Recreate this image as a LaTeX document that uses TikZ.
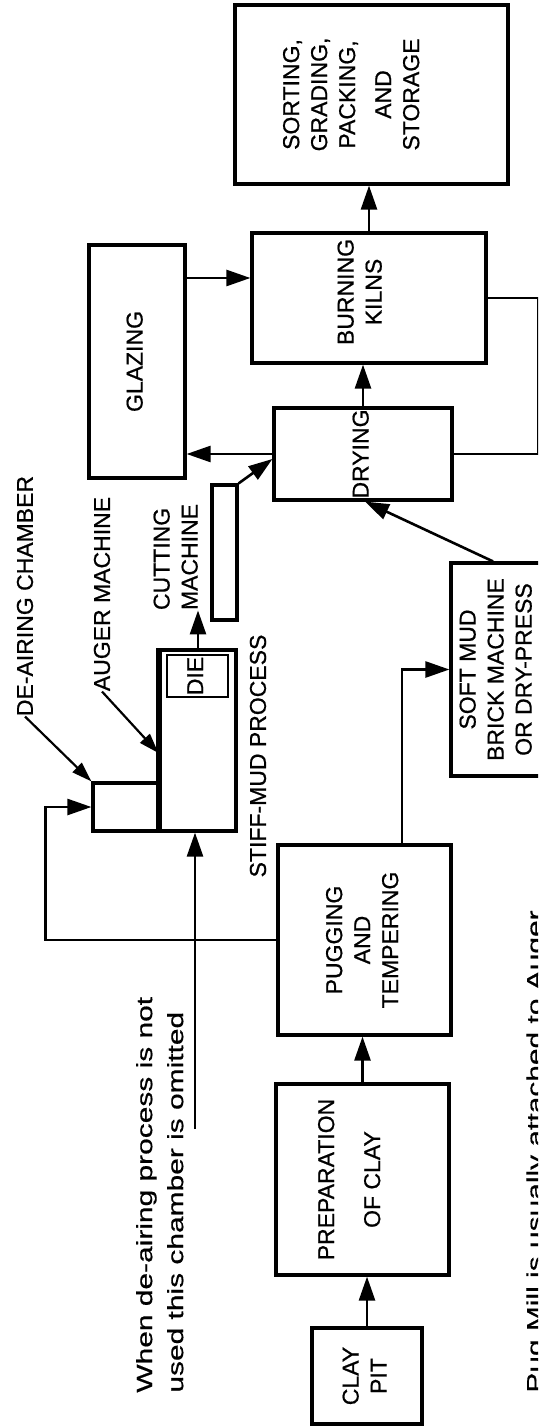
\documentclass[tikz,border=0pt]{standalone}
\usepackage{fontspec}
\setmainfont{Liberation Sans}[FakeBold=0.7]
\usepackage{graphicx}
\usetikzlibrary{arrows.meta}

\newcommand{\vlines}[1]{\rotatebox{90}{\begin{tabular}{@{}c@{}}#1\end{tabular}}}
\newcommand{\vleft}[1]{\rotatebox{90}{\begin{tabular}{@{}l@{}}#1\end{tabular}}}
\newcommand{\vwide}[1]{\rotatebox{90}{\scalebox{1.36}[1]{\begin{tabular}{@{}l@{}}#1\end{tabular}}}}

\begin{document}
\begin{tikzpicture}[
  x=0.5pt, y=-0.5pt,
  font=\fontsize{11.5}{14}\selectfont\addfontfeature{FakeBold=0.7},
  box/.style={draw, line width=1.6pt, inner sep=0pt},
  lbl/.style={inner sep=0pt},
  note/.style={inner sep=0pt, font=\fontsize{11}{15.5}\selectfont\addfontfeature{FakeBold=0.5}},
  arr/.style={-{Triangle[length=12pt,width=8pt]}, line width=1.3pt},
  lead/.style={-{Triangle[length=10pt,width=6.5pt]}, line width=1.1pt},
  link/.style={line width=1.3pt}
]
\useasboundingbox (0,0) rectangle (538,1427);
\clip (0,0) rectangle (538,1427);

\node[box, minimum width=136.5pt, minimum height=89.5pt] (sort) at (371.5,94.5)
  {\vlines{SORTING,\\ GRADING,\\ PACKING,\\[4pt] AND\\ STORAGE}\hspace*{18pt}};
\node[box, minimum width=117pt, minimum height=65pt] (kiln) at (369,298)
  {\raisebox{6pt}{\vlines{BURNING\\ KILNS}}\hspace*{7pt}};
\node[box, minimum width=48pt, minimum height=116.5pt] (glaze) at (137,361.5) {\vlines{GLAZING}};
\node[box, minimum width=89pt, minimum height=46pt] (dry) at (363,454) {\vlines{DRYING}};
\node[box, minimum width=12.5pt, minimum height=67.5pt] (cut) at (224.5,552.5) {};
\node[box, minimum width=38pt, minimum height=90.5pt] (auger) at (198,740.5) {};
\node[box, line width=1.2pt, minimum width=30.5pt, minimum height=21pt] (die) at (197.5,676) {\vlines{DIE}};
\node[box, minimum width=33.5pt, minimum height=24pt] (deair) at (126.5,807) {};
\node[box, minimum width=86.5pt, minimum height=95pt] (pug) at (364.5,940)
  {\vlines{PUGGING\\ AND\\ TEMPERING}};
\node[box, minimum width=47pt, minimum height=106.5pt] (soft) at (498,669.5)
  {\vlines{SOFT MUD\\ BRICK MACHINE\\ OR DRY-PRESS}};
\node[box, minimum width=86.5pt, minimum height=95.5pt] (prep) at (362.5,1179.5)
  {\vlines{PREPARATION\\[9pt] OF CLAY}\hspace*{11pt}};
\node[box, minimum width=55pt, minimum height=48pt] (pit) at (367,1376)
  {\raisebox{-6pt}{\vlines{CLAY\\ PIT}}};
\draw[line width=2.5pt] (auger.north west) -- (auger.south west);

\node[lbl] (stiff) at (258,756) {\rotatebox{90}{STIFF-MUD PROCESS}};
\node[lbl] (cutlbl) at (178,557) {\vleft{CUTTING\\ MACHINE}};
\node[lbl] (deairlbl) at (25,596) {\rotatebox{90}{DE-AIRING CHAMBER}};
\node[lbl] (augerlbl) at (102,594) {\rotatebox{90}{AUGER MACHINE}};
\node[note, anchor=south west] (omitnote) at (130,1393)
  {\vwide{When de-airing process is not\\ used this chamber is omitted}};
\node[note, anchor=south east] (pugnote) at (552,1393)
  {\vwide{Pug Mill is usually attached to Auger}};
\coordinate (omit) at (195,1129);
\coordinate (kin) at ([yshift=10pt]kiln.west);

\draw[arr] (pit.north) -- (pit.north |- prep.south);
\draw[arr] (prep.north) -- (prep.north |- pug.south);
\draw[arr] (pug.west) -- ++(-231,0) |- (deair.west);
\draw[arr] ([xshift=18.75pt]pug.north) |- (soft.west);
\draw[arr] (omit) -- (omit |- auger.south);
\draw[arr] (auger.north) -- (auger.north |- cutlbl.south);
\draw[arr] (cut.north east) -- ([yshift=-2.5pt]dry.west);
\draw[arr] (dry.west) -- (dry.west -| glaze.east);
\draw[arr] (dry.north) -- (dry.north |- kiln.south);
\draw[arr] (kin -| glaze.east) -- (kin);
\draw[arr] (kiln.north) -- (kiln.north |- sort.south);
\draw[link] (kiln.east) -- ++(51,0) |- (dry.east);
\draw[arr] ([xshift=-2.5pt]soft.north) -- ([xshift=1pt]dry.south);
\draw[lead] (deairlbl.south) -- (deair.north west);
\draw[lead] (augerlbl.south) -- ([yshift=-6.25pt]auger.west);
\end{tikzpicture}
\end{document}
